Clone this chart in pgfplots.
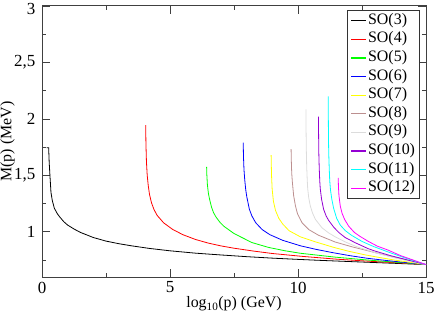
\documentclass[border=0pt]{standalone}
\usepackage{fontspec}
\setmainfont{Liberation Serif}
\usepackage{pgfplots}
\pgfplotsset{compat=1.18}
\definecolor{soBlack}{RGB}{0,0,0}
\definecolor{soRed}{RGB}{255,0,0}
\definecolor{soGreen}{RGB}{0,255,0}
\definecolor{soBlue}{RGB}{0,0,255}
\definecolor{soYellow}{RGB}{255,255,0}
\definecolor{soBrown}{RGB}{188,143,143}
\definecolor{soGrey}{RGB}{220,220,220}
\definecolor{soViolet}{RGB}{148,0,211}
\definecolor{soCyan}{RGB}{0,255,255}
\definecolor{soMagenta}{RGB}{255,0,255}
\begin{document}
\begin{tikzpicture}
\begin{axis}[
  at={(0,0)}, anchor=south west,
  scale only axis, width=384bp, height=271bp,
  xmin=0, xmax=15, ymin=0.6, ymax=3,
  xtick={0,5,10,15}, ytick={1,1.5,2,2.5},
  xticklabels={0,5,10,15},
  yticklabels={1,{1,5},2,{2,5}},
  extra y ticks={3}, extra y tick labels={3},
  extra y tick style={yticklabel style={yshift=-2.5bp}},
  minor xtick={2.5,7.5,12.5}, minor ytick={0.75,1.25,1.75,2.25,2.75},
  tick align=inside,
  major tick length=8bp, minor tick length=4bp,
  axis line style={black!75, line width=1bp},
  every tick/.style={black!75, line width=0.8bp},
  tick label style={font=\rmfamily\fontsize{17}{19}\selectfont},
  yticklabel style={inner sep=0pt, xshift=-6.5bp},
  xticklabel style={inner sep=0pt, yshift=-4.7bp},
  xlabel={log\textsubscript{10}(p) (GeV)},
  ylabel={M(p) (MeV)},
  label style={font=\rmfamily\fontsize{16}{19}\selectfont},
  xlabel style={at={(axis description cs:0.5,-0.072)}, anchor=north, inner sep=0pt},
  ylabel style={at={(axis description cs:-0.0703,0.5)}, anchor=south, inner sep=0pt},
  legend style={at={(axis description cs:0.984,0.985)}, anchor=north east,
    draw=black!80, fill=white,
    font=\rmfamily\fontsize{16}{18.2}\selectfont,
    inner xsep=3.5bp, inner ysep=1.2bp, row sep=0pt,
    nodes={inner sep=1.1bp, text height=11.8bp, text depth=4.6bp}},
  legend cell align=left,
  legend image code/.code={\draw[#1, line width=1.2bp] (0bp,0bp) -- (15bp,0bp);},
]
\addplot[color=soBlack, line width=0.8bp] coordinates {
(0.18,1.745)(0.22,1.745)(0.26,1.745)(0.28,1.62)(0.31,1.50)(0.35,1.35)(0.40,1.28)(0.48,1.21)
(0.60,1.16)(0.70,1.13)(0.85,1.09)(1.0,1.06)(1.25,1.025)(1.5,0.995)(2.0,0.950)(2.5,0.918)
(3.0,0.895)(3.5,0.876)(4.2,0.853)(5.0,0.832)(6.0,0.811)(7.0,0.795)(8.0,0.780)(9.0,0.767)
(10.0,0.756)(11.0,0.746)(12.0,0.737)(13.0,0.728)(14.0,0.719)(15.0,0.710)};
\addlegendentry{SO(3)}
\addplot[color=soRed, line width=0.8bp] coordinates {
(4.05,1.945)(4.06,1.78)(4.08,1.62)(4.11,1.50)(4.15,1.41)(4.20,1.33)(4.28,1.255)(4.38,1.195)
(4.50,1.145)(4.75,1.08)(5.10,1.022)(5.50,0.975)(6.00,0.932)(6.50,0.900)(7.00,0.875)(7.50,0.855)
(8.25,0.83)(9.00,0.808)(10.2,0.782)(11.5,0.758)(12.75,0.740)(14.0,0.724)(15.0,0.710)};
\addlegendentry{SO(4)}
\addplot[color=soGreen, line width=0.8bp] coordinates {
(6.43,1.576)(6.44,1.50)(6.46,1.42)(6.50,1.34)(6.55,1.285)(6.62,1.22)(6.70,1.17)(6.80,1.13)
(6.95,1.085)(7.10,1.05)(7.50,0.985)(8.20,0.905)(8.85,0.862)(9.50,0.832)(10.1,0.810)
(11.45,0.776)(12.73,0.750)(14.0,0.728)(15.0,0.710)};
\addlegendentry{SO(5)}
\addplot[color=soBlue, line width=0.8bp] coordinates {
(7.86,1.79)(7.87,1.67)(7.89,1.55)(7.92,1.46)(7.96,1.37)(8.00,1.31)(8.10,1.20)(8.20,1.14)
(8.35,1.08)(8.60,1.02)(8.90,0.975)(9.40,0.925)(10.1,0.876)(10.7,0.845)(11.3,0.818)(12.0,0.79)
(12.7,0.766)(13.5,0.745)(14.3,0.726)(15.0,0.710)};
\addlegendentry{SO(6)}
\addplot[color=soYellow, line width=0.8bp] coordinates {
(8.95,1.68)(8.96,1.56)(8.97,1.48)(8.99,1.38)(9.04,1.27)(9.12,1.19)(9.25,1.12)(9.40,1.07)
(9.65,1.01)(10.1,0.955)(10.7,0.91)(11.4,0.862)(12.0,0.827)(12.6,0.797)(13.2,0.772)(13.8,0.749)
(14.4,0.729)(15.0,0.710)};
\addlegendentry{SO(7)}
\addplot[color=soBrown, line width=0.8bp] coordinates {
(9.73,1.733)(9.74,1.62)(9.755,1.52)(9.78,1.44)(9.83,1.32)(9.90,1.23)(9.98,1.16)(10.16,1.08)
(10.42,1.02)(10.80,0.97)(11.45,0.91)(12.1,0.868)(12.5,0.845)(13.3,0.800)(14.2,0.752)(15.0,0.710)};
\addlegendentry{SO(8)}
\addplot[color=soGrey, line width=0.8bp] coordinates {
(10.31,2.085)(10.315,1.90)(10.325,1.72)(10.34,1.58)(10.36,1.46)(10.38,1.38)(10.42,1.30)
(10.48,1.23)(10.57,1.165)(10.68,1.11)(10.94,1.035)(11.2,0.99)(11.46,0.955)(11.85,0.91)
(12.24,0.873)(13.02,0.815)(13.8,0.768)(14.4,0.738)(15.0,0.710)};
\addlegendentry{SO(9)}
\addplot[color=soViolet, line width=0.8bp] coordinates {
(10.80,2.02)(10.805,1.85)(10.815,1.68)(10.83,1.56)(10.85,1.45)(10.87,1.38)(10.92,1.29)
(11.0,1.20)(11.1,1.14)(11.2,1.10)(11.4,1.04)(11.59,0.995)(11.84,0.95)(12.24,0.903)
(12.75,0.85)(13.02,0.829)(13.6,0.79)(14.3,0.75)(15.0,0.710)};
\addlegendentry{SO(10)}
\addplot[color=soCyan, line width=0.8bp] coordinates {
(11.18,2.20)(11.185,2.0)(11.19,1.85)(11.20,1.70)(11.22,1.56)(11.24,1.45)(11.27,1.37)
(11.32,1.29)(11.39,1.21)(11.51,1.12)(11.65,1.06)(11.85,1.01)(12.1,0.968)(12.5,0.915)
(12.95,0.87)(13.6,0.815)(14.3,0.76)(15.0,0.710)};
\addlegendentry{SO(11)}
\addplot[color=soMagenta, line width=0.8bp] coordinates {
(11.57,1.477)(11.58,1.40)(11.60,1.32)(11.65,1.23)(11.72,1.165)(11.82,1.11)(11.98,1.05)
(12.2,0.995)(12.42,0.96)(12.75,0.915)(13.1,0.873)(13.5,0.84)(14.0,0.79)(14.5,0.75)(15.0,0.71)};
\addlegendentry{SO(12)}
\end{axis}
\pgfresetboundingbox
\path[use as bounding box] (-42bp,-38bp) rectangle (394bp,277bp);
\end{tikzpicture}
\end{document}
